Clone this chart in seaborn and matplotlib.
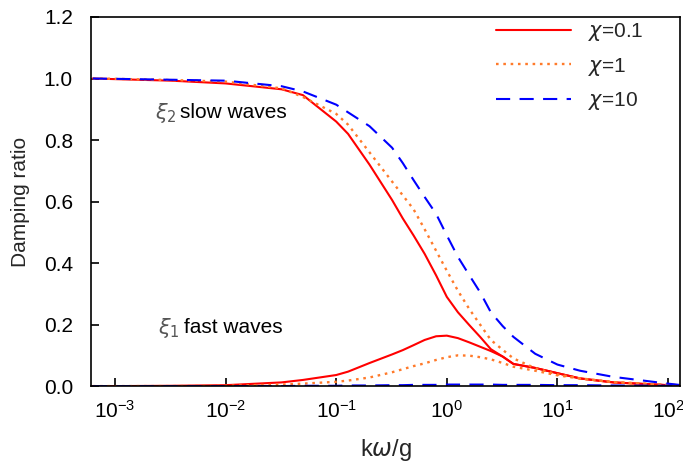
import numpy as np
import pandas as pd
import matplotlib
matplotlib.use("Agg")
import matplotlib.pyplot as plt
import seaborn as sns
from matplotlib.ticker import NullLocator

# ---- data ----
k = [0.00063, 0.001, 0.0032, 0.01, 0.032, 0.05, 0.1, 0.128, 0.2, 0.32, 0.4,
     0.5, 0.63, 0.8, 1.0, 1.26, 1.6, 2.0, 2.5, 3.2, 4.0, 6.3, 10, 16, 32, 100, 126]

slow_01 = [1.0, 0.998, 0.993, 0.984, 0.965, 0.946, 0.86, 0.82, 0.72, 0.605, 0.545,
           0.49, 0.43, 0.36, 0.29, 0.24, 0.198, 0.16, 0.12, 0.096, 0.072, 0.059,
           0.042, 0.025, 0.012, 0.003, 0.002]
slow_1 = [1.0, 0.999, 0.995, 0.99, 0.968, 0.94, 0.885, 0.85, 0.76, 0.665, 0.62,
          0.575, 0.51, 0.44, 0.375, 0.31, 0.25, 0.20, 0.15, 0.118, 0.09, 0.058,
          0.038, 0.025, 0.013, 0.004, 0.003]
slow_10 = [1.0, 0.999, 0.996, 0.993, 0.975, 0.958, 0.915, 0.89, 0.845, 0.775, 0.725,
           0.67, 0.615, 0.56, 0.49, 0.42, 0.36, 0.305, 0.24, 0.195, 0.16, 0.105,
           0.07, 0.05, 0.03, 0.008, 0.004]
fast_01 = [0.0, 0.0, 0.001, 0.003, 0.012, 0.02, 0.036, 0.047, 0.075, 0.103, 0.117,
           0.133, 0.15, 0.162, 0.164, 0.156, 0.142, 0.128, 0.114, 0.096, 0.072, 0.059,
           0.042, 0.025, 0.012, 0.003, 0.002]
fast_1 = [0.0, 0.0, 0.0, 0.001, 0.005, 0.008, 0.014, 0.018, 0.028, 0.045, 0.055,
          0.065, 0.074, 0.085, 0.094, 0.1, 0.099, 0.094, 0.087, 0.075, 0.063, 0.05,
          0.035, 0.025, 0.013, 0.004, 0.003]
fast_10 = [0.0, 0.0, 0.0, 0.0, 0.0, 0.001, 0.001, 0.002, 0.002, 0.003, 0.003,
           0.004, 0.004, 0.004, 0.005, 0.005, 0.005, 0.005, 0.005, 0.004, 0.004, 0.004,
           0.003, 0.003, 0.002, 0.001, 0.001]

chi_labels = [r"$\chi$=0.1", r"$\chi$=1", r"$\chi$=10"]
xticks = [1e-3, 1e-2, 1e-1, 1e0, 1e1, 1e2]
yticks = [0.0, 0.2, 0.4, 0.6, 0.8, 1.0, 1.2]

# ---- style ----
sns.set_style("ticks")
plt.rcParams['font.family'] = ['Liberation Sans', 'DejaVu Sans']
plt.rcParams['mathtext.fontset'] = 'dejavusans'

FS = 15

fig = plt.figure(figsize=(6.83, 4.68), dpi=100)
ax = fig.add_axes([0.1332, 0.175, 0.8624, 0.7887])

colors = ["#ff0000", "#ff7a2a", "#0000ff"]
styles = ["-", (0, (1.1, 2.0)), (0, (6.8, 4.5))]
widths = [1.5, 1.7, 1.5]
slow = [slow_01, slow_1, slow_10]
fast = [fast_01, fast_1, fast_10]

for i in range(3):
    df_s = pd.DataFrame({"k": k, "y": slow[i]})
    df_f = pd.DataFrame({"k": k, "y": fast[i]})
    sns.lineplot(data=df_s, x="k", y="y", ax=ax, color=colors[i], lw=widths[i],
                 linestyle=styles[i], label=chi_labels[i])
    sns.lineplot(data=df_f, x="k", y="y", ax=ax, color=colors[i], lw=widths[i],
                 linestyle=styles[i])

ax.set_xscale("log")
ax.set_xlim(10 ** -3.217, 10 ** 2.108)
ax.set_ylim(0, 1.2)
ax.set_xticks(xticks)
ax.xaxis.set_minor_locator(NullLocator())
ax.set_yticks(yticks)
ax.set_yticklabels([f"{v:.1f}" for v in yticks])

for s in ax.spines.values():
    s.set_visible(True)
    s.set_color("black")
    s.set_linewidth(1.2)

ax.tick_params(axis="both", which="major", direction="in", length=6, width=1.2,
               labelsize=FS, colors="black")
ax.tick_params(axis="x", pad=10)
ax.tick_params(axis="y", pad=13)
ax.set_xlabel(r"k$\omega$/g", fontsize=17, labelpad=11)
ax.set_ylabel("Damping ratio", fontsize=FS, labelpad=10)

# annotations: Greek symbol in grey, words in black
ax.text(0.0023, 0.888, r"$\xi_{2}$", fontsize=FS, va="center", ha="left", color="#555555")
ax.text(0.0039, 0.888, "slow waves", fontsize=FS, va="center", ha="left", color="black")
ax.text(0.00245, 0.189, r"$\xi_{1}$", fontsize=FS, va="center", ha="left", color="#555555")
ax.text(0.0042, 0.189, "fast waves", fontsize=FS, va="center", ha="left", color="black")

ax.legend(loc="upper right", frameon=False, fontsize=FS, handlelength=3.6,
          handletextpad=0.8, labelspacing=0.6, borderaxespad=0.0, borderpad=0.2,
          bbox_to_anchor=(0.945, 1.0))

fig.savefig("out.png", dpi=100)
